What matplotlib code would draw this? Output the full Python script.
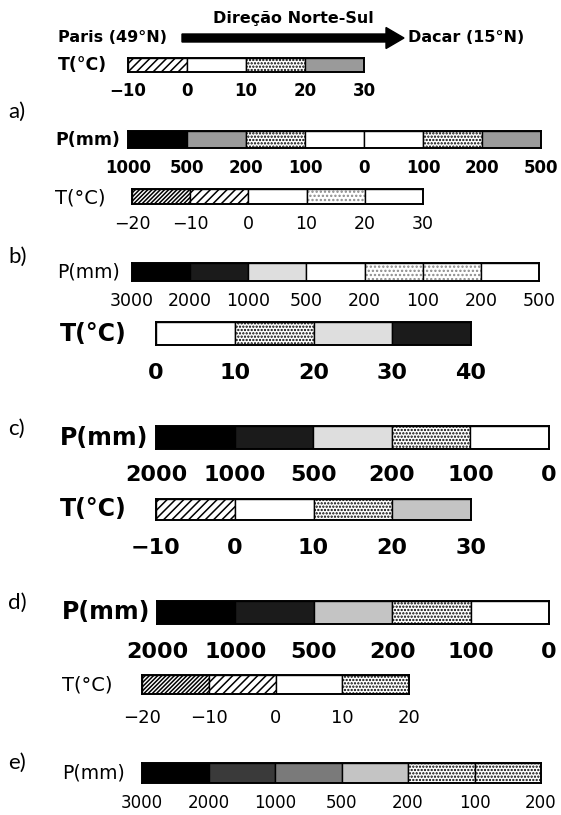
import matplotlib
matplotlib.use('Agg')
import matplotlib.pyplot as plt
from matplotlib.patches import FancyArrow

W, H = 561, 815

# limites das classes de cada barra (rotulos) e o preenchimento de cada classe
top_t_ticks = [-10, 0, 10, 20, 30]
top_t_fill = ['hatch', 'white', 'dots', 'gray']

a_p_ticks = [1000, 500, 200, 100, 0, 100, 200, 500]
a_p_fill = ['black', 'gray', 'dots', 'white', 'white', 'dots', 'gray']
a_t_ticks = [-20, -10, 0, 10, 20, 30]
a_t_fill = ['dense', 'hatch', 'white', 'lightdots', 'white']

b_p_ticks = [3000, 2000, 1000, 500, 200, 100, 200, 500]
b_p_fill = ['black', 'dark', 'light', 'white', 'lightdots', 'lightdots', 'white']
b_t_ticks = [0, 10, 20, 30, 40]
b_t_fill = ['white', 'dots', 'light', 'dark']

c_p_ticks = [2000, 1000, 500, 200, 100, 0]
c_p_fill = ['black', 'dark', 'light', 'dots', 'white']
c_t_ticks = [-10, 0, 10, 20, 30]
c_t_fill = ['hatch', 'white', 'dots', 'silver']

d_p_ticks = [2000, 1000, 500, 200, 100, 0]
d_p_fill = ['black', 'dark', 'silver', 'dots', 'white']
d_t_ticks = [-20, -10, 0, 10, 20]
d_t_fill = ['dense', 'hatch', 'white', 'dots']

e_p_ticks = [3000, 2000, 1000, 500, 200, 100, 200]
e_p_fill = ['black', 'charcoal', 'mid', 'silver', 'dots', 'dots']

panel_letters = ['a)', 'b)', 'c)', 'd)', 'e)']

# estilo de cada tipo de preenchimento: (cor, hachura, cor da hachura)
styles = {
    'black': ('#000000', None, 'black'),
    'dark': ('#1b1b1b', None, 'black'),
    'charcoal': ('#3a3a3a', None, 'black'),
    'mid': ('#7a7a7a', None, 'black'),
    'gray': ('#9a9a9a', None, 'black'),
    'silver': ('#c4c4c4', None, 'black'),
    'light': ('#dedede', None, 'black'),
    'white': ('#ffffff', None, 'black'),
    'dots': ('#ffffff', '.....', 'black'),
    'lightdots': ('#ffffff', '....', '#8a8a8a'),
    'hatch': ('#ffffff', '////', 'black'),
    'dense': ('#ffffff', '////////', 'black'),
}

plt.rcParams['hatch.linewidth'] = 1.1
plt.rcParams['font.family'] = ['DejaVu Sans']

fig = plt.figure(figsize=(W / 100, H / 100), dpi=100)
fig.patch.set_facecolor('white')

# eixo de fundo em pixels, so para textos e a seta
bg = fig.add_axes([0, 0, 1, 1])
bg.set_xlim(0, W)
bg.set_ylim(H, 0)
bg.axis('off')


def fmt(v):
    return str(v).replace('-', '\u2212')


def draw_row(ticks, fill, x0, x1, y0, y1, label, lx, ly, ty, weight, lsize, tsize):
    n = len(fill)
    ax = fig.add_axes([x0 / W, 1 - y1 / H, (x1 - x0) / W, (y1 - y0) / H])
    for i, f in enumerate(fill):
        fc, hatch, hc = styles[f]
        # preenchimento (a cor da hachura vem da borda) e depois o contorno preto
        ax.barh(0, 1, left=i, height=1, color=fc, hatch=hatch, edgecolor=hc, linewidth=0)
        ax.barh(0, 1, left=i, height=1, fill=False, edgecolor='black', linewidth=1.0)
    ax.set_xlim(0, n)
    ax.set_ylim(-0.5, 0.5)
    ax.set_xticks([])
    ax.set_yticks([])
    for s in ax.spines.values():
        s.set_linewidth(1.4)
    # rotulos das classes, linha de base em pixels convertida para fracao do eixo
    base = ty + 0.365 * tsize * 100 / 72
    yf = -(base - y1) / (y1 - y0)
    for i, t in enumerate(ticks):
        ax.text(i, yf, fmt(t), transform=ax.get_xaxis_transform(), ha='center',
                va='baseline', fontsize=tsize, fontweight=weight)
    bg.text(lx, ly, label, ha='left', va='center', fontsize=lsize, fontweight=weight)


# cabecalho
bg.text(293, 19, 'Direção Norte-Sul', ha='center', va='center', fontsize=11.5, fontweight='bold')
bg.text(58, 37, 'Paris (49°N)', ha='left', va='center', fontsize=11.5, fontweight='bold')
bg.text(408, 37, 'Dacar (15°N)', ha='left', va='center', fontsize=11.5, fontweight='bold')
bg.add_patch(FancyArrow(182, 38, 222, 0, width=8, head_width=21, head_length=18,
                        length_includes_head=True, color='black'))

draw_row(top_t_ticks, top_t_fill, 128, 364, 58, 72, 'T(°C)', 58, 65, 90, 'bold', 12.5, 12)

draw_row(a_p_ticks, a_p_fill, 128, 541, 131, 148, 'P(mm)', 55, 140, 167, 'bold', 12.5, 12)
draw_row(a_t_ticks, a_t_fill, 132, 423, 189, 204, 'T(°C)', 55, 198, 223, 'normal', 14, 12.5)

draw_row(b_p_ticks, b_p_fill, 132, 539, 263, 281, 'P(mm)', 57, 272, 300, 'normal', 13.5, 12.5)
draw_row(b_t_ticks, b_t_fill, 156, 471, 322, 345, 'T(°C)', 60, 334, 371, 'bold', 17, 16)

draw_row(c_p_ticks, c_p_fill, 156, 549, 426, 449, 'P(mm)', 60, 438, 473, 'bold', 17, 16)
draw_row(c_t_ticks, c_t_fill, 156, 471, 499, 520, 'T(°C)', 60, 509, 546, 'bold', 17, 16)

draw_row(d_p_ticks, d_p_fill, 157, 549, 601, 624, 'P(mm)', 62, 612, 650, 'bold', 17, 16)
draw_row(d_t_ticks, d_t_fill, 142, 409, 675, 694, 'T(°C)', 62, 685, 716, 'normal', 14, 13)

draw_row(e_p_ticks, e_p_fill, 142, 541, 763, 783, 'P(mm)', 62, 773, 802, 'normal', 13.5, 12)

for letter, ly in zip(panel_letters, [112, 257, 429, 603, 763]):
    bg.text(8, ly, letter, ha='left', va='center', fontsize=16, family=['Lato', 'DejaVu Sans'])

fig.savefig('out.png', dpi=100)
